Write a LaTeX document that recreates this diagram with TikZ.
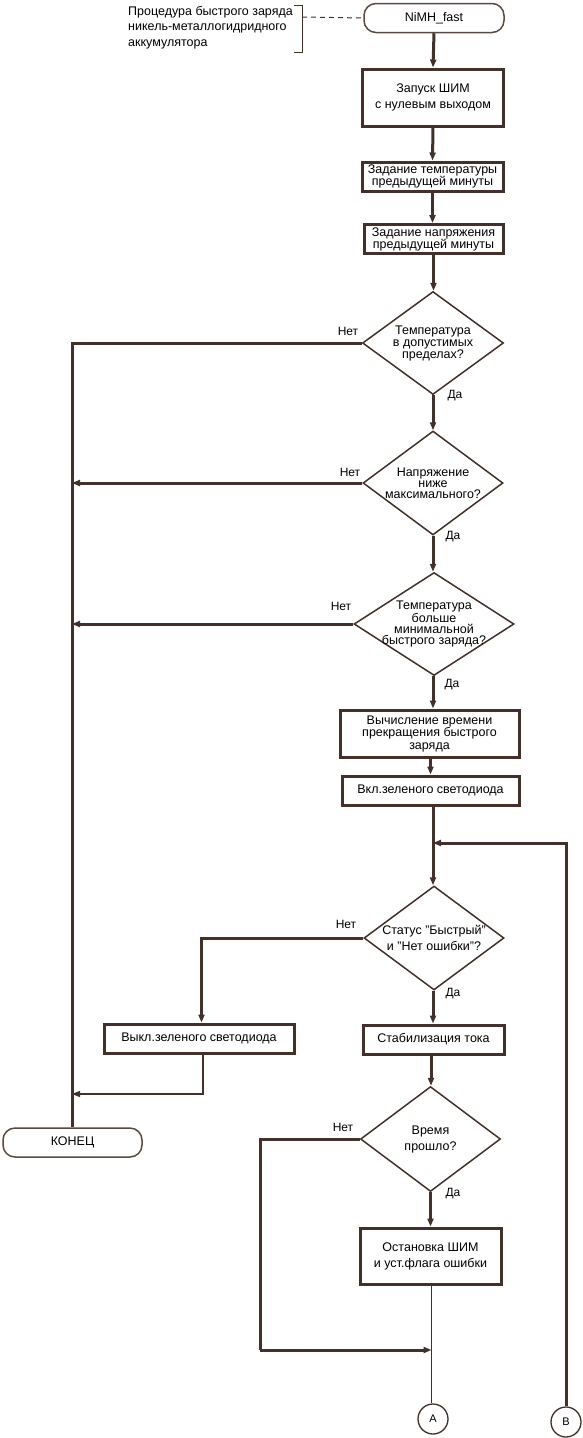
\documentclass[tikz,border=0pt]{standalone}
\usepackage{fontspec}
\setmainfont{Liberation Sans}
\usetikzlibrary{shapes.geometric,arrows.meta}
\definecolor{ln}{HTML}{43302A}
\definecolor{tm}{HTML}{5A4A42}
\begin{document}
\begin{tikzpicture}[x=1pt,y=-1pt,
  font=\fontsize{12.5}{12.5}\selectfont,
  proc/.style={draw=ln,line width=3pt,minimum height=#1,inner sep=1pt,align=center},
  proc/.default=29pt,
  dec/.style={diamond,draw=ln,line width=1.5pt,inner sep=-30pt,align=center},
  term/.style={draw=tm,line width=1.5pt,rounded corners=12pt,minimum height=29pt,inner sep=0pt},
  conn/.style={draw=ln,line width=1.3pt,circle,minimum size=30pt,inner sep=0pt,font=\fontsize{11}{11}\selectfont},
  fl/.style={draw=ln,line width=3pt},
  thin/.style={draw=ln,line width=1.3pt},
  arr/.style={-{Triangle[length=8pt,width=6pt]}},
  lbl/.style={font=\fontsize{12}{12}\selectfont,inner sep=0pt}
]
\useasboundingbox (0,0) rectangle (583,1438);
\fill[white] (0,0) rectangle (583,1438);

% start
\node[term,minimum width=140pt] (start) at (434,18) {NiMH\_fast};
\node[align=left,anchor=north west,inner sep=0pt,font=\fontsize{12.5}{15.5}\selectfont] (cmt) at (128,6)
  {Процедура быстрого заряда\\никель-металлогидридного\\аккумулятора};
\coordinate (bt) at (302,5);
\coordinate (bb) at (302,52);
\draw[thin,line width=1pt] (294,5) -- (bt) -- (bb) -- (294,52);
\coordinate (bm) at (302,17);
\draw[thin,line width=1pt,dash pattern=on 5pt off 4pt] (bm) -- (start.west);

% boxes
\node[proc=57pt,minimum width=141pt,font=\fontsize{12.5}{16}\selectfont] (b1) at (433,97.5) {Запуск ШИМ\\с нулевым выходом};
\node[proc,minimum width=141pt,font=\fontsize{12.5}{12}\selectfont] (b2) at (432.5,176.5) {Задание температуры\\предыдущей минуты};
\node[proc,minimum width=139pt,font=\fontsize{12.5}{12}\selectfont] (b3) at (433.5,239) {Задание напряжения\\предыдущей минуты};
\node[dec,minimum width=141pt,minimum height=103pt,font=\fontsize{12.5}{12}\selectfont] (d1) at (433,343) {Температура\\в допустимых\\пределах?};
\node[dec,minimum width=140pt,minimum height=104pt,font=\fontsize{12.5}{11}\selectfont] (d2) at (433,483) {Напряжение\\ниже\\максимального?};
\node[dec,minimum width=160pt,minimum height=103pt,font=\fontsize{12.5}{11}\selectfont] (d3) at (434,624) {Температура\\больше\\минимальной\\быстрого заряда?};
\node[proc=47pt,minimum width=179pt,font=\fontsize{12.5}{12.5}\selectfont] (b4) at (429.5,733.5) {Вычисление времени\\прекращения быстрого\\заряда};
\node[proc,minimum width=177pt] (b5) at (430.5,790.5) {Вкл.зеленого светодиода};
\node[dec,minimum width=140pt,minimum height=104pt,font=\fontsize{12.5}{16}\selectfont] (d4) at (434,938) {Статус "Быстрый"\\и "Нет ошибки"?};
\node[proc,minimum width=190pt] (b6) at (199,1038.5) {Выкл.зеленого светодиода};
\node[proc,minimum width=141pt] (b7) at (433.5,1039.5) {Стабилизация тока};
\node[term,minimum width=139pt] (end) at (72.5,1142.5) {КОНЕЦ};
\node[dec,minimum width=140pt,minimum height=105pt,font=\fontsize{12.5}{16}\selectfont] (d5) at (430.5,1139) {Время\\прошло?};
\node[proc=56pt,minimum width=141pt,font=\fontsize{12.5}{16}\selectfont] (b8) at (430.5,1256) {Остановка ШИМ\\и уст.флага ошибки};
\node[conn] (ca) at (433,1419) {A};
\node[conn] (cb) at (566,1422) {B};

% main flow
\draw[fl,arr] (start.south) -- (b1.north);
\draw[fl,arr] (b1.south) -- (b2.north);
\draw[fl,arr] (b2.south) -- (b3.north -| b2.south);
\draw[fl,arr] (b3.south) -- (d1.north -| b3.south);
\draw[fl,arr] (d1.south) -- (d2.north);
\draw[fl,arr] (d2.south) -- (d3.north -| d2.south);
\draw[fl,arr] (d3.south -| d2.south) -- (b4.north -| d2.south);
\draw[fl,arr] (b4.south -| 430.5,0) -- (b5.north);
\coordinate (jb) at (433,843);
\draw[fl] (b5.south -| jb) -- (jb);
\draw[fl,arr] (jb) -- (d4.north -| jb);
\draw[fl,arr] (d4.south -| jb) -- (b7.north -| jb);
\draw[fl,arr] (b7.south -| 431,0) -- (d5.north -| 431,0);
\draw[fl,arr] (d5.south) -- (b8.north);
\coordinate (ja) at (431.5,1350);
\draw[thin] (b8.south -| ja) -- (ja) -- (ca.north -| ja);

% left bus
\coordinate (lt) at (72,343);
\draw[fl] (d1.west) -- (lt) -- (end.north -| lt);
\draw[fl,arr] (d2.west) -- (d2.west -| lt);
\draw[fl,arr] (d3.west) -- (d3.west -| lt);

% no-branch of d4
\coordinate (n4) at (201.5,938);
\draw[fl,arr] (d4.west) -- (n4) -- (b6.north -| n4);
\coordinate (n6) at (203,1094);
\draw[thin,arr] (b6.south -| n6) -- (n6) -- (n6 -| lt);

% no-branch of d5
\coordinate (n5) at (260,1139);
\coordinate (n5b) at (260,1350);
\draw[fl] (d5.west) -- (n5) -- (n5b);
\draw[fl,arr] (n5b) -- (ja);

% B loop
\coordinate (bl) at (566,843);
\draw[fl,arr] (cb.north) -- (bl) -- (jb);

% labels
\node[lbl] (l1n) at (348,331) {Нет};
\node[lbl] (l1y) at (455,396) {Да};
\node[lbl] (l2n) at (350,472) {Нет};
\node[lbl] (l2y) at (453,537) {Да};
\node[lbl] (l3n) at (341,606) {Нет};
\node[lbl] (l3y) at (452,685) {Да};
\node[lbl] (l4n) at (346,924) {Нет};
\node[lbl] (l4y) at (453,994) {Да};
\node[lbl] (l5n) at (343,1127) {Нет};
\node[lbl] (l5y) at (453,1194) {Да};
\end{tikzpicture}
\end{document}
